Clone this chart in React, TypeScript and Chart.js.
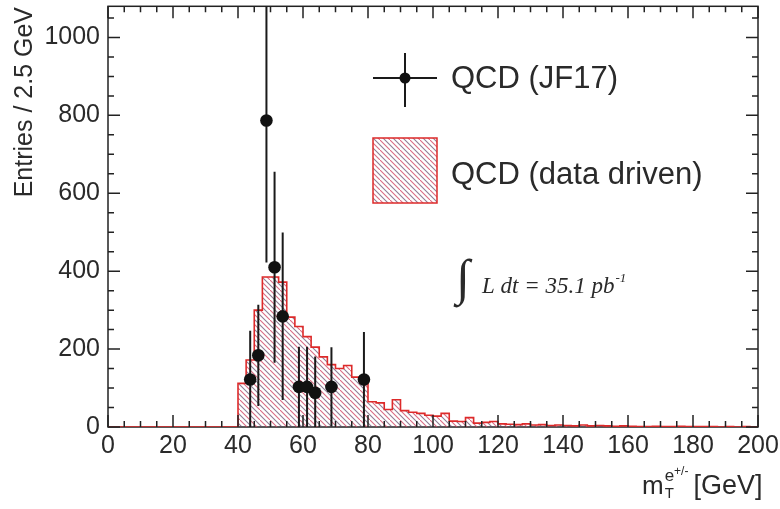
import React, { useEffect, useRef } from "react";
import { Chart, registerables } from "chart.js";

Chart.register(...registerables);

// ---- data ----
const binStart = 40; // GeV, first non-empty bin low edge
const binWidth = 2.5; // GeV
const histValues = [
  112, 172, 300, 385, 385, 372, 282, 258, 232, 205, 180, 160, 150, 158, 128, 112,
  65, 62, 45, 70, 42, 38, 35, 30, 28, 35, 15, 14, 24, 10, 12, 14,
  8, 7, 6, 8, 5, 6, 4, 5, 4, 3, 5, 3, 4, 3, 2, 3,
  2, 1, 1, 2, 1, 1, 2, 1, 1, 1, 1, 0, 1, 0, 1, 0,
];
const ptX = [43.75, 46.25, 48.75, 51.25, 53.75, 58.75, 61.25, 63.75, 68.75, 78.75];
const ptY = [122, 184, 787, 410, 284, 103, 103, 88, 103, 122];
const ptErr = [125, 130, 365, 245, 215, 103, 103, 93, 102, 122];
const xTicks = [0, 20, 40, 60, 80, 100, 120, 140, 160, 180, 200];
const yTicks = [0, 200, 400, 600, 800, 1000];
const xMin = 0;
const xMax = 200;
const yMin = 0;
const yMax = 1080;
const xMinorStep = 5;
const yMinorStep = 50;
const legendPoints = "QCD (JF17)";
const legendHist = "QCD (data driven)";
const yTitle = "Entries / 2.5 GeV";

const SANS = "'Liberation Sans', Arial, sans-serif";
const SERIF = "'Liberation Serif', 'Times New Roman', serif";
const TEXT = "#2a2a2a";
const RED = "#dd2a2a";

function makeHatch(ctx: CanvasRenderingContext2D): CanvasPattern | string {
  const c = document.createElement("canvas");
  c.width = 10;
  c.height = 10;
  const g = c.getContext("2d");
  if (!g) return "rgba(180,80,110,0.3)";
  g.lineWidth = 1.1;
  g.strokeStyle = "rgba(210,70,100,0.8)";
  g.beginPath();
  g.moveTo(-1, -1);
  g.lineTo(11, 11);
  g.stroke();
  g.strokeStyle = "rgba(95,70,105,0.7)";
  g.beginPath();
  g.moveTo(4, -1);
  g.lineTo(11, 6);
  g.moveTo(-1, 4);
  g.lineTo(6, 11);
  g.stroke();
  return ctx.createPattern(c, "repeat") || "rgba(180,80,110,0.3)";
}

export default function App() {
  const ref = useRef<HTMLCanvasElement | null>(null);

  useEffect(() => {
    const canvas = ref.current;
    if (!canvas) return;
    const ctx0 = canvas.getContext("2d");
    if (!ctx0) return;
    const hatch = makeHatch(ctx0);

    const histData: { x: number; y: number }[] = [{ x: xMin, y: 0 }];
    histValues.forEach((v, i) => histData.push({ x: binStart + i * binWidth, y: v }));
    histData.push({ x: xMax, y: histValues[histValues.length - 1] });

    const pointData = ptX.map((x, i) => ({ x, y: ptY[i] }));

    const rootPlugin = {
      id: "rootStyle",
      beforeDatasetsDraw(chart: any) {
        const { ctx, chartArea: a } = chart;
        ctx.save();
        ctx.strokeStyle = "#222";
        ctx.lineWidth = 1.5;
        ctx.strokeRect(a.left, a.top, a.right - a.left, a.bottom - a.top);
        ctx.restore();
      },
      afterDatasetDraw(chart: any, args: any) {
        if (args.index !== 0) return;
        const { ctx, chartArea: a, scales } = chart;
        const xs = scales.x;
        const ys = scales.y;
        ctx.save();
        ctx.beginPath();
        ctx.rect(a.left, a.top, a.right - a.left, a.bottom - a.top);
        ctx.clip();
        ctx.strokeStyle = "#1a1a1a";
        ctx.lineWidth = 2;
        ptX.forEach((x, i) => {
          const px = xs.getPixelForValue(x);
          const y1 = ys.getPixelForValue(Math.max(0, ptY[i] - ptErr[i]));
          const y2 = ys.getPixelForValue(ptY[i] + ptErr[i]);
          ctx.beginPath();
          ctx.moveTo(px, y1);
          ctx.lineTo(px, y2);
          ctx.stroke();
        });
        ctx.restore();
      },
      afterDraw(chart: any) {
        const { ctx, chartArea: a, scales } = chart;
        const xs = scales.x;
        const ys = scales.y;
        ctx.save();
        // inner ticks on all four sides
        ctx.strokeStyle = "#222";
        ctx.lineWidth = 1.5;
        const major = 12;
        const minor = 6;
        for (let v = xMin; v <= xMax + 1e-9; v += xMinorStep) {
          const isMajor = xTicks.includes(v);
          const len = isMajor ? major : minor;
          const px = xs.getPixelForValue(v);
          ctx.beginPath();
          ctx.moveTo(px, a.bottom);
          ctx.lineTo(px, a.bottom - len);
          ctx.moveTo(px, a.top);
          ctx.lineTo(px, a.top + len);
          ctx.stroke();
        }
        for (let v = yMin; v <= yMax + 1e-9; v += yMinorStep) {
          const isMajor = yTicks.includes(v);
          const len = isMajor ? major : minor;
          const py = ys.getPixelForValue(v);
          ctx.beginPath();
          ctx.moveTo(a.left, py);
          ctx.lineTo(a.left + len, py);
          ctx.moveTo(a.right, py);
          ctx.lineTo(a.right - len, py);
          ctx.stroke();
        }

        ctx.fillStyle = TEXT;
        // y title
        ctx.save();
        ctx.translate(32, 7);
        ctx.rotate(-Math.PI / 2);
        ctx.textAlign = "right";
        ctx.textBaseline = "alphabetic";
        ctx.font = `25px ${SANS}`;
        ctx.fillText(yTitle, 0, 0);
        ctx.restore();

        // x title: m_T^{e+/-} [GeV]
        ctx.textAlign = "left";
        ctx.textBaseline = "alphabetic";
        let x = 642;
        const base = 494;
        ctx.font = `26px ${SANS}`;
        ctx.fillText("m", x, base);
        x += ctx.measureText("m").width + 1;
        ctx.font = `17px ${SANS}`;
        ctx.fillText("e", x, base - 13);
        const ew = ctx.measureText("e").width;
        ctx.font = `12px ${SANS}`;
        ctx.fillText("+/-", x + ew, base - 19);
        const pw = ctx.measureText("+/-").width;
        ctx.font = `15px ${SANS}`;
        ctx.fillText("T", x, base + 4);
        x += ew + pw + 5;
        ctx.font = `27px ${SANS}`;
        ctx.fillText("[GeV]", x, base);

        // legend: points
        ctx.strokeStyle = "#1a1a1a";
        ctx.lineWidth = 2;
        ctx.beginPath();
        ctx.moveTo(373, 78);
        ctx.lineTo(437, 78);
        ctx.moveTo(405, 53);
        ctx.lineTo(405, 107);
        ctx.stroke();
        ctx.fillStyle = "#111";
        ctx.beginPath();
        ctx.arc(405, 78, 5.5, 0, Math.PI * 2);
        ctx.fill();
        // legend: hist
        ctx.fillStyle = hatch as any;
        ctx.fillRect(373, 138, 64, 65);
        ctx.strokeStyle = RED;
        ctx.lineWidth = 1.5;
        ctx.strokeRect(373, 138, 64, 65);

        ctx.fillStyle = TEXT;
        ctx.font = `31px ${SANS}`;
        ctx.fillText(legendPoints, 451, 88);
        ctx.fillText(legendHist, 451, 184);

        // luminosity
        ctx.font = `50px ${SERIF}`;
        ctx.fillText("\u222B", 456, 294);
        ctx.font = `italic 23px ${SERIF}`;
        const lumi = "L dt = 35.1 pb";
        ctx.fillText(lumi, 482, 293);
        const lw = ctx.measureText(lumi).width;
        ctx.font = `italic 13px ${SERIF}`;
        ctx.fillText("-1", 482 + lw + 1, 282);
        ctx.restore();
      },
    };

    const chart = new Chart(canvas, {
      type: "line",
      data: {
        datasets: [
          {
            type: "line",
            label: legendHist,
            data: histData,
            stepped: "before",
            borderColor: RED,
            borderWidth: 1.6,
            backgroundColor: hatch as any,
            fill: "origin",
            pointRadius: 0,
            order: 2,
          },
          {
            type: "scatter",
            label: legendPoints,
            data: pointData,
            pointRadius: 6.3,
            pointBackgroundColor: "#111",
            pointBorderWidth: 0,
            showLine: false,
            order: 1,
          },
        ],
      } as any,
      options: {
        animation: false,
        responsive: false,
        events: [],
        layout: { padding: { left: 0, top: 4, right: 22, bottom: 0 } },
        plugins: {
          legend: { display: false },
          tooltip: { enabled: false },
        },
        scales: {
          x: {
            type: "linear",
            min: xMin,
            max: xMax,
            grid: { display: false, drawTicks: false },
            border: { display: false },
            afterBuildTicks: (s: any) => {
              s.ticks = xTicks.map((v) => ({ value: v }));
            },
            afterFit: (s: any) => {
              s.height = 82;
              s.paddingLeft = 0;
              s.paddingRight = 0;
            },
            ticks: {
              padding: 4,
              maxRotation: 0,
              autoSkip: false,
              color: TEXT,
              font: { family: SANS, size: 25 },
              callback: (v: any) => String(v),
            },
          },
          y: {
            type: "linear",
            min: yMin,
            max: yMax,
            grid: { display: false, drawTicks: false },
            border: { display: false },
            afterBuildTicks: (s: any) => {
              s.ticks = yTicks.map((v) => ({ value: v }));
            },
            afterFit: (s: any) => {
              s.width = 108;
              s.paddingTop = 0;
              s.paddingBottom = 0;
            },
            ticks: {
              padding: 8,
              autoSkip: false,
              color: TEXT,
              font: { family: SANS, size: 25 },
              callback: (v: any) => String(v),
            },
          },
        },
      } as any,
      plugins: [rootPlugin],
    });

    return () => chart.destroy();
  }, []);

  return (
    <div style={{ position: "absolute", left: 0, top: 0, width: 780, height: 509, background: "#fff" }}>
      <canvas ref={ref} width={780} height={509} style={{ display: "block", width: 780, height: 509 }} />
    </div>
  );
}
